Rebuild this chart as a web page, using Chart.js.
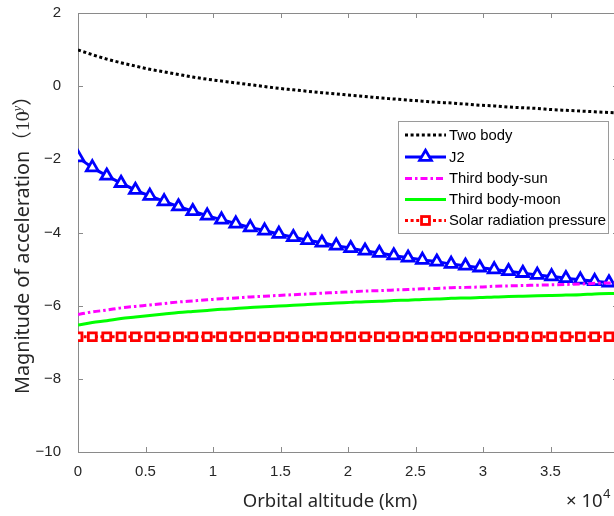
<!DOCTYPE html>
<html>
<head>
<meta charset="utf-8">
<script src="https://cdn.jsdelivr.net/npm/chart.js@4/dist/chart.umd.min.js"></script>
<style>
  html, body { margin: 0; padding: 0; background: #fff; overflow: hidden; }
  #wrap { width: 640px; height: 516px; }
</style>
</head>
<body>
<div id="wrap"><canvas id="c" width="640" height="516"></canvas></div>
<script>
// Orbital altitude samples (×10^4 km)
const altitude = [0, 0.106, 0.213, 0.319, 0.425, 0.532, 0.638, 0.744, 0.850, 0.957,
  1.063, 1.169, 1.276, 1.382, 1.488, 1.595, 1.701, 1.807, 1.913, 2.020,
  2.126, 2.232, 2.339, 2.445, 2.551, 2.658, 2.764, 2.870, 2.976, 3.083,
  3.189, 3.295, 3.402, 3.508, 3.614, 3.721, 3.827, 3.933, 4.000];

// log10 of acceleration magnitude for each perturbation
const twoBody = [0.99, 0.86, 0.74, 0.64, 0.55, 0.46, 0.39, 0.32, 0.25, 0.19,
  0.14, 0.09, 0.04, -0.01, -0.06, -0.10, -0.14, -0.18, -0.21, -0.25,
  -0.28, -0.32, -0.35, -0.38, -0.41, -0.44, -0.46, -0.49, -0.52, -0.54,
  -0.57, -0.59, -0.61, -0.64, -0.66, -0.68, -0.70, -0.72, -0.73];
const j2 = [-1.95, -2.22, -2.45, -2.65, -2.84, -3.00, -3.15, -3.29, -3.42, -3.54,
  -3.65, -3.76, -3.86, -3.95, -4.04, -4.13, -4.21, -4.28, -4.36, -4.43,
  -4.50, -4.56, -4.63, -4.69, -4.75, -4.80, -4.86, -4.91, -4.96, -5.01,
  -5.06, -5.11, -5.16, -5.20, -5.25, -5.29, -5.33, -5.37, -5.40];
const thirdSun = [-6.24, -6.17, -6.12, -6.06, -6.02, -5.98, -5.94, -5.90, -5.87, -5.84,
  -5.81, -5.79, -5.76, -5.74, -5.72, -5.70, -5.68, -5.66, -5.64, -5.62,
  -5.60, -5.59, -5.57, -5.56, -5.54, -5.53, -5.51, -5.50, -5.49, -5.47,
  -5.46, -5.45, -5.44, -5.43, -5.42, -5.41, -5.39, -5.38, -5.38];
const thirdMoon = [-6.53, -6.46, -6.41, -6.35, -6.31, -6.27, -6.23, -6.19, -6.16, -6.13,
  -6.10, -6.08, -6.05, -6.03, -6.01, -5.99, -5.97, -5.95, -5.93, -5.91,
  -5.89, -5.88, -5.86, -5.85, -5.83, -5.82, -5.80, -5.79, -5.78, -5.76,
  -5.75, -5.74, -5.73, -5.72, -5.71, -5.70, -5.68, -5.67, -5.67];
const solarPressure = [-6.85, -6.85, -6.85, -6.85, -6.85, -6.85, -6.85, -6.85, -6.85, -6.85,
  -6.85, -6.85, -6.85, -6.85, -6.85, -6.85, -6.85, -6.85, -6.85, -6.85,
  -6.85, -6.85, -6.85, -6.85, -6.85, -6.85, -6.85, -6.85, -6.85, -6.85,
  -6.85, -6.85, -6.85, -6.85, -6.85, -6.85, -6.85, -6.85, -6.85];

const seriesNames = ['Two body', 'J2', 'Third body-sun', 'Third body-moon', 'Solar radiation pressure'];

// Axis ticks
const xTicks = [0, 0.5, 1, 1.5, 2, 2.5, 3, 3.5, 4];
const yTicks = [2, 0, -2, -4, -6, -8, -10];

const AXIS = '#8a8a8a';
const TEXT = '#262626';
const lastMarker = altitude.length - 2;
const TRI_R = 6.8, RECT_R = 5.6, MARK_W = 2.8;

function pts(vals) { return altitude.map((x, i) => ({ x: x, y: vals[i] })); }
function minusSign(v) { return String(v).replace('-', '\u2212'); }

const styles = [
  { color: '#000000', dash: [3, 2.6], marker: null },
  { color: '#0000ff', dash: [], marker: 'triangle' },
  { color: '#ff00ff', dash: [7, 3, 2.5, 3], marker: null },
  { color: '#00ff00', dash: [], marker: null },
  { color: '#ff0000', dash: [3, 2.6], marker: 'rect' }
];
const seriesData = [twoBody, j2, thirdSun, thirdMoon, solarPressure];

const datasets = seriesData.map((vals, k) => {
  const s = styles[k];
  return {
    label: seriesNames[k],
    data: pts(vals),
    borderColor: s.color,
    backgroundColor: s.color,
    borderWidth: 3,
    borderDash: s.dash,
    cubicInterpolationMode: 'monotone',
    pointStyle: s.marker || 'circle',
    pointRadius: s.marker ? (c => c.dataIndex <= lastMarker ? (s.marker === 'rect' ? RECT_R : TRI_R) : 0) : 0,
    pointHoverRadius: 0,
    pointBorderWidth: MARK_W,
    pointBorderColor: s.color,
    pointBackgroundColor: '#ffffff',
    order: 5 - k
  };
});

// Box edges, inward ticks, titles and the inset legend
const decorations = {
  id: 'decorations',
  beforeDatasetsDraw(chart) {
    const { ctx, chartArea: a, scales } = chart;
    ctx.save();
    ctx.strokeStyle = AXIS;
    ctx.lineWidth = 1;
    ctx.beginPath();
    ctx.moveTo(a.left + 0.5, a.top + 0.5); ctx.lineTo(a.right, a.top + 0.5);
    ctx.moveTo(a.left + 0.5, a.top); ctx.lineTo(a.left + 0.5, a.bottom + 0.5);
    ctx.moveTo(a.left, a.bottom + 0.5); ctx.lineTo(a.right, a.bottom + 0.5);
    ctx.moveTo(a.right + 0.5, a.top); ctx.lineTo(a.right + 0.5, a.bottom + 0.5);
    const tl = 5;
    xTicks.forEach(v => {
      const px = Math.round(scales.x.getPixelForValue(v)) + 0.5;
      ctx.moveTo(px, a.bottom); ctx.lineTo(px, a.bottom - tl);
      ctx.moveTo(px, a.top); ctx.lineTo(px, a.top + tl);
    });
    yTicks.forEach(v => {
      const py = Math.round(scales.y.getPixelForValue(v)) + 0.5;
      ctx.moveTo(a.left, py); ctx.lineTo(a.left + tl, py);
      ctx.moveTo(a.right, py); ctx.lineTo(a.right - tl, py);
    });
    ctx.stroke();
    ctx.restore();
  },
  afterDatasetsDraw(chart) {
    const { ctx } = chart;
    ctx.save();

    // legend box
    const bx = 398.5, by = 121.5, bw = 210, bh = 112;
    ctx.fillStyle = '#ffffff';
    ctx.fillRect(bx, by, bw, bh);
    ctx.strokeStyle = '#9a9a9a';
    ctx.lineWidth = 1;
    ctx.strokeRect(bx, by, bw, bh);
    const rowY = [135, 157, 178.5, 199.5, 220.5];
    ctx.font = '14.8px "Liberation Sans", Arial, sans-serif';
    ctx.textBaseline = 'middle';
    seriesNames.forEach((name, k) => {
      const s = styles[k];
      const y = rowY[k];
      ctx.strokeStyle = s.color;
      ctx.lineWidth = 3;
      ctx.setLineDash(s.dash);
      ctx.beginPath();
      ctx.moveTo(405, y); ctx.lineTo(446, y);
      ctx.stroke();
      ctx.setLineDash([]);
      if (s.marker === 'triangle') {
        const r = TRI_R;
        ctx.beginPath();
        for (let j = 0; j < 3; j++) {
          const ang = j * 2 * Math.PI / 3;
          const px = 425.5 + Math.sin(ang) * r, py = y - Math.cos(ang) * r;
          j ? ctx.lineTo(px, py) : ctx.moveTo(px, py);
        }
        ctx.closePath();
        ctx.fillStyle = '#ffffff';
        ctx.fill();
        ctx.lineWidth = MARK_W;
        ctx.strokeStyle = s.color;
        ctx.stroke();
      } else if (s.marker === 'rect') {
        const h = RECT_R * Math.SQRT1_2;
        ctx.fillStyle = '#ffffff';
        ctx.fillRect(425.5 - h, y - h, 2 * h, 2 * h);
        ctx.lineWidth = MARK_W;
        ctx.strokeStyle = s.color;
        ctx.strokeRect(425.5 - h, y - h, 2 * h, 2 * h);
      }
      ctx.fillStyle = '#000000';
      ctx.fillText(name, 449, y + 0.5);
    });

    // x-axis title and exponent
    ctx.fillStyle = TEXT;
    ctx.textBaseline = 'alphabetic';
    ctx.font = '18.5px "Noto Sans", "Open Sans", sans-serif';
    ctx.textAlign = 'center';
    ctx.fillText('Orbital altitude (km)', 330, 507);
    ctx.textAlign = 'left';
    const tx = '\u00d7 10';
    ctx.fillText(tx, 566, 507);
    const tw = ctx.measureText(tx).width;
    ctx.font = '13px "Noto Sans", "Open Sans", sans-serif';
    ctx.fillText('4', 566 + tw + 0.5, 498);

    // y-axis title (rotated)
    ctx.translate(29, 240);
    ctx.rotate(-Math.PI / 2);
    const f1 = '19.8px "Noto Sans", "Open Sans", sans-serif';
    const f2 = '19.8px "Noto Sans CJK SC", sans-serif';
    const f3 = '19.8px "Liberation Serif", serif';
    const f4 = 'italic 12.5px "Liberation Serif", serif';
    const parts = [
      [f1, 'Magnitude of acceleration', 0],
      [f2, '\uff08', 0],
      [f3, '10', 0],
      [f4, 'y', -8],
      [f2, '\uff09', 0]
    ];
    let total = 0;
    parts.forEach(p => { ctx.font = p[0]; p.push(ctx.measureText(p[1]).width); total += p[3]; });
    let cx = -total / 2;
    parts.forEach(p => {
      ctx.font = p[0];
      ctx.fillText(p[1], cx, p[2]);
      cx += p[3];
    });
    ctx.restore();
  }
};

new Chart(document.getElementById('c'), {
  type: 'line',
  data: { datasets: datasets },
  options: {
    responsive: false,
    animation: false,
    devicePixelRatio: 1,
    layout: { autoPadding: false, padding: { top: 13, right: 22, left: 0, bottom: 0 } },
    plugins: { legend: { display: false }, tooltip: { enabled: false } },
    scales: {
      x: {
        type: 'linear',
        min: 0, max: 4,
        afterBuildTicks: s => { s.ticks = xTicks.map(v => ({ value: v })); },
        afterFit: s => { s.height = 64; s.paddingLeft = 0; s.paddingRight = 0; },
        grid: { display: false, drawTicks: false },
        border: { display: false },
        ticks: {
          padding: 11,
          color: TEXT,
          font: { family: '"Liberation Sans", Arial, sans-serif', size: 15 },
          maxRotation: 0,
          callback: v => (v === 4 ? '' : minusSign(v))
        }
      },
      y: {
        min: -10, max: 2,
        afterBuildTicks: s => { s.ticks = yTicks.map(v => ({ value: v })); },
        afterFit: s => { s.width = 78; s.paddingTop = 0; s.paddingBottom = 0; },
        grid: { display: false, drawTicks: false },
        border: { display: false },
        ticks: {
          padding: 17,
          color: TEXT,
          font: { family: '"Liberation Sans", Arial, sans-serif', size: 15 },
          callback: v => minusSign(v)
        }
      }
    }
  },
  plugins: [decorations]
});
</script>
</body>
</html>
